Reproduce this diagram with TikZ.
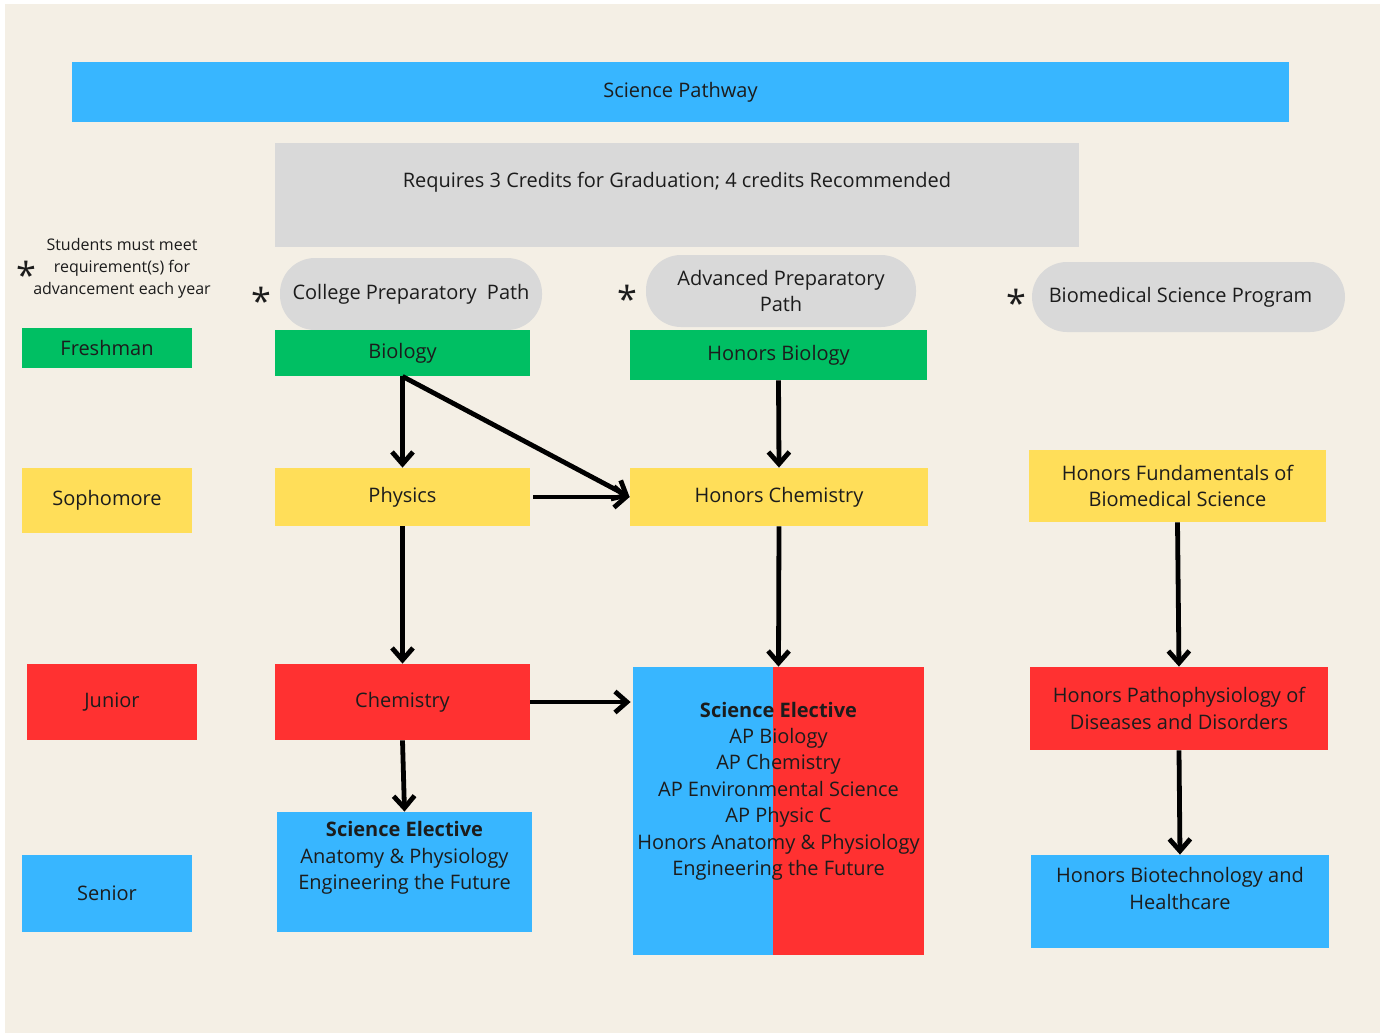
\documentclass[tikz,border=0pt]{standalone}
\usepackage{fontspec}
\setmainfont{Open Sans}
\usepackage{tikz}
\usetikzlibrary{positioning, arrows.meta}

\definecolor{skyblue}{HTML}{38B6FF}
\definecolor{leafgreen}{HTML}{00BF63}
\definecolor{sunyellow}{HTML}{FFDE59}
\definecolor{brightred}{HTML}{FF3131}
\definecolor{pillgray}{HTML}{D9D9D9}
\definecolor{cream}{HTML}{F4EFE5}
\definecolor{ink}{HTML}{1C1C1C}

\begin{document}
\begin{tikzpicture}[x=0.5pt, y=-0.5pt,
                    every node/.style={text=ink, font=\fontsize{10}{13.2}\selectfont, align=center, inner sep=0pt},
                    pill/.style={fill=pillgray, rounded corners=17.5pt},
                    star/.style={font=\fontsize{18}{18}\selectfont},
                    flow/.style={-{Straight Barb[length=6pt, width=10.5pt]}, line width=2.4pt, black}]
                    \useasboundingbox (0,0) rectangle (1383,1033);
                    \fill[white] (0,0) rectangle (1383,1033);
                    \fill[cream] (5,4) rectangle (1380,1033);
                    % header
                    \node[fill=skyblue, minimum width=608.5pt, minimum height=30pt] (path) at (680.5,92) {Science Pathway};
                    \node[fill=pillgray, minimum width=402pt, minimum height=52pt,
                          label={[yshift=6.5pt]center:Requires 3 Credits for Graduation; 4 credits Recommended}] (req) at (677,195) {};
                    \node[font=\fontsize{8}{11}\selectfont] (note) at (122,268) {Students must meet\\requirement(s) for\\advancement each year};
                    \node[star] (star0) at (26,275) {*};
                    \node[star] (star1) at (261,301) {*};
                    \node[star] (star2) at (627,299) {*};
                    \node[star] (star3) at (1016,303) {*};
                    % paths
                    \node[pill, minimum width=131pt, minimum height=36pt] (cpp) at (411,294) {College Preparatory\ \ Path};
                    \node[pill, minimum width=135pt, minimum height=36pt] (app) at (781,291) {Advanced Preparatory\\Path};
                    \node[pill, minimum width=156.5pt, minimum height=35pt] (bsp) at (1188.5,297) {\hspace*{-8pt}Biomedical Science Program};
                    % years
                    \node[fill=leafgreen, minimum width=85pt, minimum height=20pt] (fresh) at (107,348) {Freshman};
                    \node[fill=sunyellow, minimum width=85pt, minimum height=32.5pt] (soph) at (107,500.5) {Sophomore};
                    \node[fill=brightred, minimum width=85pt, minimum height=38pt] (junior) at (112,702) {Junior};
                    \node[fill=skyblue, minimum width=85pt, minimum height=38.5pt] (senior) at (107,893.5) {Senior};
                    % college preparatory
                    \node[fill=leafgreen, minimum width=127.5pt, minimum height=23pt] (bio) at (402.5,353) {Biology};
                    \node[fill=sunyellow, minimum width=127.5pt, minimum height=29pt] (phys) at (402.5,497) {Physics};
                    \node[fill=brightred, minimum width=127.5pt, minimum height=38pt] (chem) at (402.5,702) {Chemistry};
                    \node[fill=skyblue, minimum width=127.5pt, minimum height=60pt,
                          label={[align=center, yshift=7pt]center:\textbf{Science Elective}\\Anatomy \& Physiology\\Engineering the Future}] (selec) at (404.5,872) {};
                    % advanced preparatory
                    \node[fill=leafgreen, minimum width=148.5pt, minimum height=25pt] (hbio) at (778.5,355) {Honors Biology};
                    \node[fill=sunyellow, minimum width=149pt, minimum height=29pt] (hchem) at (779,497) {Honors Chemistry};
                    \node[fill=skyblue, minimum width=145.5pt, minimum height=144pt,
                          path picture={\fill[brightred] ([xshift=-2.75pt]path picture bounding box.north) rectangle (path picture bounding box.south east);},
                          label={[align=center, yshift=10pt]center:\textbf{Science Elective}\\AP Biology\\AP Chemistry\\AP Environmental Science\\AP Physic C\\Honors Anatomy \& Physiology\\Engineering the Future}] (elec) at (778.5,811) {};
                    % biomedical
                    \node[fill=sunyellow, minimum width=148.5pt, minimum height=36pt] (hfund) at (1177.5,486) {Honors Fundamentals of\\Biomedical Science};
                    \node[fill=brightred, minimum width=149pt, minimum height=41.5pt] (patho) at (1179,708.5) {Honors Pathophysiology of\\Diseases and Disorders};
                    \node[fill=skyblue, minimum width=149pt, minimum height=46.5pt,
                          label={[align=center, yshift=6.5pt]center:Honors Biotechnology and\\Healthcare}] (biotech) at (1180,901.5) {};
                    % arrows
                    \draw[flow] (bio.south) -- (phys.north);
                    \draw[flow] (bio.south) -- (hchem.west);
                    \draw[flow, shorten <=1.5pt] (phys.east) -- (hchem.west);
                    \draw[flow] (hbio.south) -- (hchem.north);
                    \draw[flow] (phys.south) -- (chem.north);
                    \draw[flow] (hchem.south) -- (elec.north);
                    \draw[flow, shorten >=1pt] (chem.east) -- (chem.east -| elec.west);
                    \draw[flow] (chem.south) -- (selec.north);
                    \draw[flow] (hfund.south) -- (patho.north);
                    \draw[flow] (patho.south) -- (biotech.north);
               \end{tikzpicture}
\end{document}
